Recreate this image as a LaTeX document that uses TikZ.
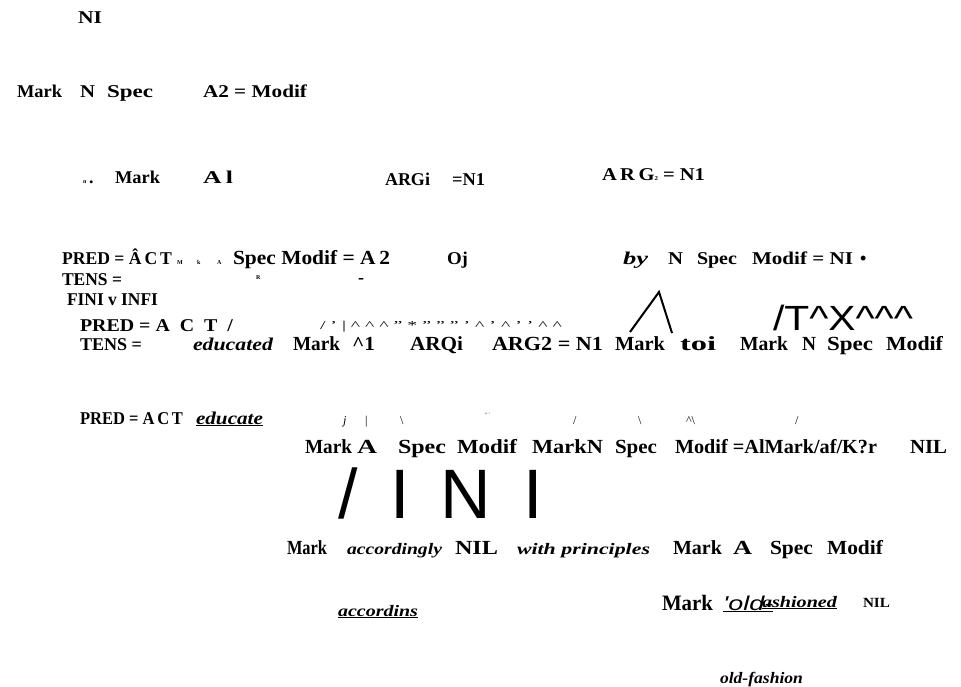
\documentclass[tikz,border=0pt]{standalone}
\usepackage{graphicx}
\usepackage{fontspec}
\setmainfont{Liberation Serif}
\newfontfamily\sansf{Liberation Sans}
% squeeze or stretch a text to a given width, keeping its height
\newcommand{\fw}[2]{\resizebox{#1pt}{\height}{#2}}
\begin{document}
\begin{tikzpicture}[x=1pt,y=-1pt,
  lbl/.style={anchor=base west,inner sep=0pt,outer sep=0pt,font=\bfseries\fontsize{18}{20}\selectfont},
  big/.style={lbl,font=\bfseries\fontsize{20}{22}\selectfont},
  tiny/.style={lbl,font=\bfseries\fontsize{6}{7}\selectfont},
  thin/.style={anchor=base west,inner sep=0pt,outer sep=0pt,font=\fontsize{12}{14}\selectfont},
  itl/.style={lbl,font=\bfseries\itshape\fontsize{18}{20}\selectfont},
  ulit/.style={lbl,font=\bfseries\itshape\fontsize{16}{18}\selectfont},
  bigsans/.style={anchor=base west,inner sep=0pt,outer sep=0pt,font=\sansf\fontsize{35}{37}\selectfont},
  hugesans/.style={anchor=base,inner sep=0pt,outer sep=0pt,font=\sansf\fontsize{70}{72}\selectfont},
  branch/.style={line width=2pt}]
\useasboundingbox (0,0) rectangle (961,687);

% top rows
\node[lbl] (ni) at (78,24) {\fw{24}{NI}};
\node[lbl] (b1) at (17,98) {\fw{45}{Mark}};
\node[lbl] (b2) at (80,98) {\fw{15}{N}};
\node[lbl] (b3) at (107,98) {\fw{46}{Spec}};
\node[lbl] (b4) at (203,98) {\fw{104}{A2 = Modif}};

\node[tiny] (c0) at (83,184) {n};
\node[lbl] (c1) at (89,184) {.};
\node[lbl] (c2) at (115,184) {\fw{45}{Mark}};
\node[lbl] (c3) at (203,184) {\fw{30}{A\,l}};
\node[lbl] (c4) at (385,186) {\fw{45}{ARGi}};
\node[lbl] (c5) at (452,186) {\fw{33}{=N1}};
\node[lbl] (c6) at (602,181) {\fw{103}{A\,R\,G{\fontsize{6}{7}\selectfont 2} = N1}};

% first predicate frame
\node[lbl] (d1) at (62,264) {\fw{110}{PRED = Â\,C\,T}};
\node[tiny] (d2) at (177,264) {M};
\node[tiny] (d3) at (197,264) {k};
\node[tiny] (d4) at (217,264) {A};
\node[big] (d5) at (233,264) {\fw{157}{Spec Modif = A\,2}};
\node[lbl] (d6) at (447,264) {\fw{21}{Oj}};
\node[itl] (d7) at (623,264) {\fw{25}{by}};
\node[lbl] (d8) at (668,264) {\fw{15}{N}};
\node[lbl] (d9) at (697,264) {\fw{40}{Spec}};
\node[lbl] (d10) at (752,264) {\fw{101}{Modif = NI}};
\node[lbl] (d11) at (860,264) {•};

\node[lbl] (e1) at (62,285) {\fw{60}{TENS =}};
\node[tiny] (e2) at (256,279) {R};
\node[lbl] (e3) at (358,283) {-};
\node[lbl] (f1) at (67,305) {\fw{91}{FINI v INFI}};

\node[lbl] (g1) at (80,331) {\fw{153}{PRED = A\ \ C\ \ T\ \ /}};
\node[thin] (g2) at (320,329) {\fw{242}{/ ' | \textasciicircum\ \textasciicircum\ \textasciicircum\ " * " " " ' \textasciicircum\ ' \textasciicircum\ ' ' \textasciicircum\ \textasciicircum}};
\coordinate (ga) at (630,332);
\coordinate (gb) at (659,292);
\coordinate (gc) at (672,333);
\draw[branch] (ga) -- (gb) -- (gc);
\node[bigsans] (g3) at (773,330) {\fw{140}{/T\textasciicircum X\textasciicircum\textasciicircum\textasciicircum}};

\node[lbl] (h1) at (80,350) {\fw{62}{TENS =}};
\node[itl] (h2) at (193,350) {\fw{80}{educated}};
\node[big] (h3) at (293,350) {\fw{47}{Mark}};
\node[big] (h4) at (352,350) {\fw{23}{\textasciicircum1}};
\node[big] (h5) at (410,350) {\fw{53}{ARQi}};
\node[big] (h6) at (492,350) {\fw{111}{ARG2 = N1}};
\node[big] (h7) at (615,350) {\fw{50}{Mark}};
\node[big] (h8) at (680,350) {\fw{36}{toi}};
\node[big] (h9) at (740,350) {\fw{48}{Mark}};
\node[big] (h10) at (802,350) {\fw{14}{N}};
\node[big] (h11) at (827,350) {\fw{46}{Spec}};
\node[big] (h12) at (886,350) {\fw{57}{Modif}};

% second predicate frame
\node[lbl] (i1) at (80,424) {\fw{103}{PRED = A\,C\,T}};
\node[itl] (i2) at (196,424) {\fw{67}{\underline{educate}}};
\node[thin] (j1) at (343,424) {\textit{j}};
\node[thin] (j2) at (365,424) {|};
\node[thin] (j3) at (400,424) {\textbackslash};
\node[thin,font=\fontsize{5}{6}\selectfont] (j4) at (485,416) {° '};
\node[thin] (j5) at (573,424) {/};
\node[thin] (j6) at (638,424) {\textbackslash};
\node[thin] (j7) at (686,424) {\textasciicircum\textbackslash};
\node[thin] (j8) at (795,424) {/};

\node[big] (k1) at (305,453) {\fw{47}{Mark}};
\node[big] (k2) at (357,453) {\fw{20}{A}};
\node[big] (k3) at (398,453) {\fw{48}{Spec}};
\node[big] (k4) at (457,453) {\fw{60}{Modif}};
\node[big] (k5) at (532,453) {\fw{71}{MarkN}};
\node[big] (k6) at (615,453) {\fw{42}{Spec}};
\node[big] (k7) at (675,453) {\fw{202}{Modif =AlMark/af/K?r}};
\node[big] (k8) at (910,453) {\fw{37}{NIL}};

\node[hugesans] (l1) at (348,518) {/};
\node[hugesans] (l2) at (400,518) {I};
\node[hugesans] (l3) at (466,518) {N};
\node[hugesans] (l4) at (533,518) {I};

\node[big] (m1) at (287,554) {\fw{40}{Mark}};
\node[ulit] (m2) at (347,554) {\fw{95}{accordingly}};
\node[big] (m3) at (455,554) {\fw{43}{NIL}};
\node[ulit] (m4) at (517,554) {\fw{133}{with principles}};
\node[big] (m5) at (673,554) {\fw{49}{Mark}};
\node[big] (m6) at (733,554) {\fw{19}{A}};
\node[big] (m7) at (770,554) {\fw{43}{Spec}};
\node[big] (m8) at (827,554) {\fw{56}{Modif}};

\node[lbl,font=\bfseries\fontsize{22}{24}\selectfont] (n1) at (662,610) {\fw{51}{Mark}};
\node[anchor=base west,inner sep=0pt,font=\sansf\itshape\fontsize{20}{22}\selectfont] (n2) at (723,610) {\fw{50}{\underline{'old-}}};
\node[ulit] (n3) at (762,607) {\fw{75}{\underline{ashioned}}};
\node[lbl,font=\bfseries\fontsize{14}{16}\selectfont] (n4) at (863,607) {\fw{27}{NIL}};
\node[ulit] (o1) at (338,616) {\fw{80}{\underline{accordins}}};
\node[ulit] (p1) at (720,683) {\fw{83}{\underline{old-fashion}}};
\end{tikzpicture}
\end{document}
